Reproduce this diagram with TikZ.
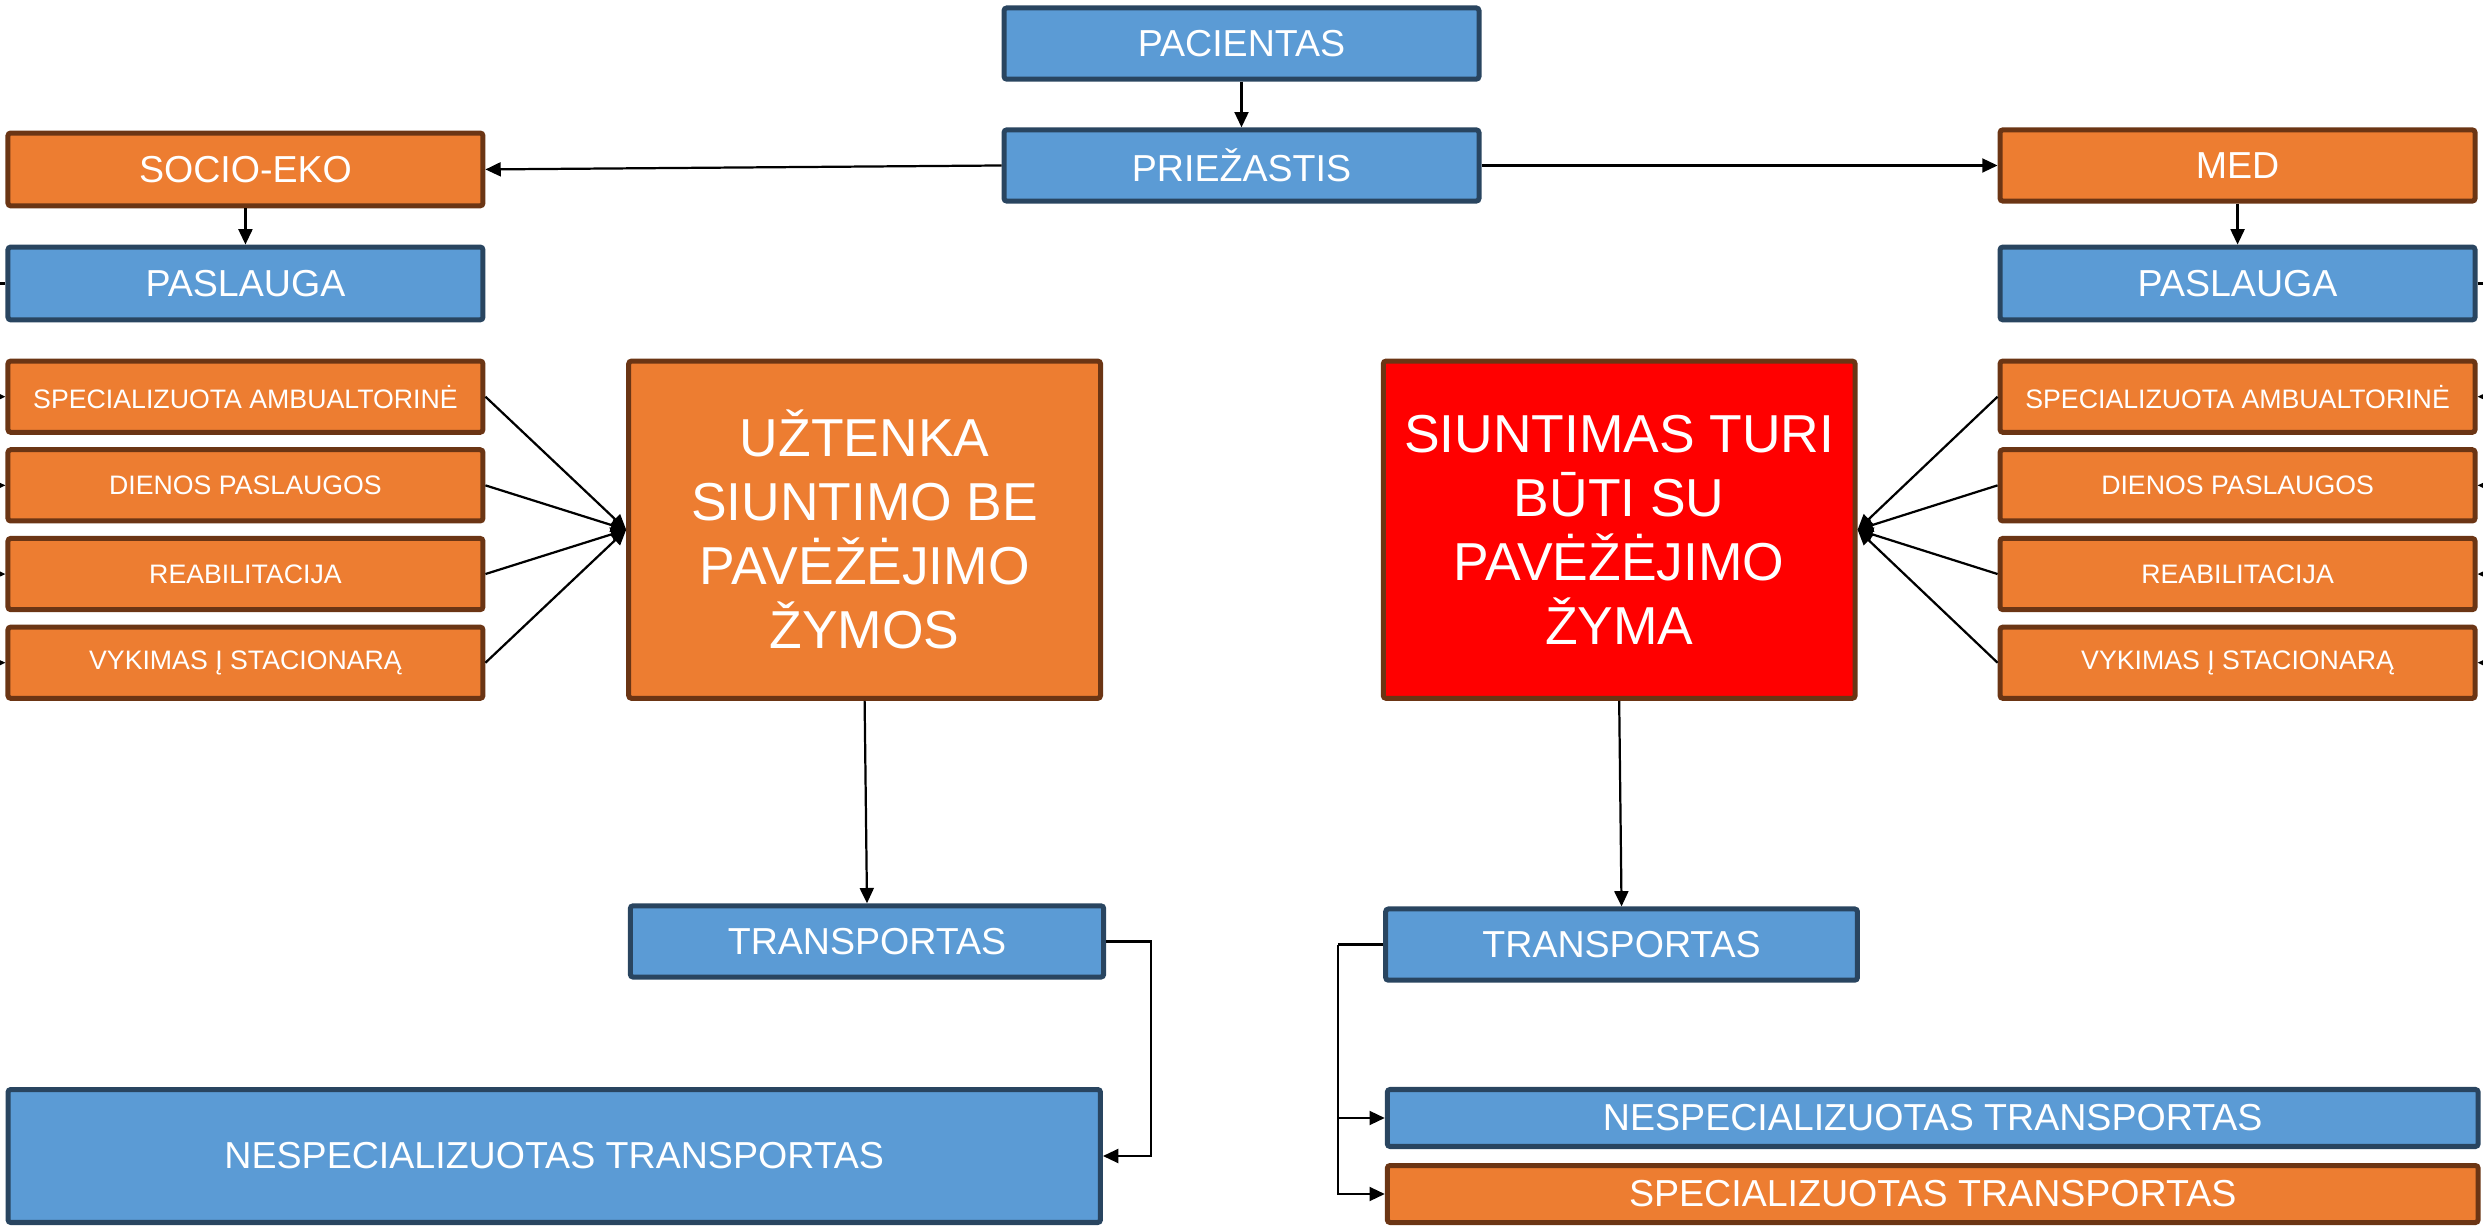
\documentclass[tikz,border=0pt]{standalone}
\usepackage{fontspec}
\setmainfont{Liberation Sans}
\usetikzlibrary{arrows.meta}
\definecolor{bluefill}{HTML}{5B9BD5}
\definecolor{bluebd}{HTML}{294560}
\definecolor{orfill}{HTML}{ED7D31}
\definecolor{orbd}{HTML}{6B3514}
\definecolor{redfill}{HTML}{FF0000}
\tikzset{
  boxbase/.style={line width=1.8pt, rounded corners=1pt, text=white, inner sep=0pt,
    minimum width=6cm, minimum height=0.9cm, font=\fontsize{13.5}{16}\selectfont},
  bluebox/.style={boxbase, draw=bluebd, fill=bluefill},
  orbox/.style={boxbase, draw=orbd, fill=orfill},
  smallbox/.style={orbox, font=\fontsize{9.6}{12}\selectfont},
  bigbox/.style={boxbase, draw=orbd, align=center, minimum width=5.96cm, minimum height=4.26cm,
    font=\fontsize{19.2}{23}\selectfont},
  arr/.style={line width=0.8pt, -{Triangle[length=5.5pt,width=5pt]}},
  ln/.style={line width=0.8pt}
}
\begin{document}
\begin{tikzpicture}[x=0.02cm,y=-0.02cm]
\useasboundingbox (0,0) rectangle (1568,774);
% top
\node[bluebox] (pac) at (784,27.5) {PACIENTAS};
\node[bluebox] (pri) at (784,104.5) {PRIEŽASTIS};
\node[orbox, minimum height=0.92cm] (soc) at (155,107) {SOCIO-EKO};
\node[orbox] (med) at (1413,104.5) {MED};
\node[bluebox, minimum height=0.92cm] (pasL) at (155,179) {PASLAUGA};
\node[bluebox, minimum height=0.92cm] (pasR) at (1413,179) {PASLAUGA};
% small boxes left
\node[smallbox] (sL1) at (155,250.5) {SPECIALIZUOTA AMBUALTORINĖ};
\node[smallbox] (sL2) at (155,306.5) {DIENOS PASLAUGOS};
\node[smallbox] (sL3) at (155,362.5) {REABILITACIJA};
\node[smallbox] (sL4) at (155,418.5) {VYKIMAS Į STACIONARĄ};
% small boxes right
\node[smallbox] (sR1) at (1413,250.5) {SPECIALIZUOTA AMBUALTORINĖ};
\node[smallbox] (sR2) at (1413,306.5) {DIENOS PASLAUGOS};
\node[smallbox] (sR3) at (1413,362.5) {REABILITACIJA};
\node[smallbox] (sR4) at (1413,418.5) {VYKIMAS Į STACIONARĄ};
% big boxes
\node[bigbox, fill=orfill] (bigL) at (546,334.5) {UŽTENKA\\SIUNTIMO BE\\PAVĖŽĖJIMO\\ŽYMOS};
\node[bigbox, fill=redfill] (bigR) at (1022.5,334.5) {SIUNTIMAS TURI\\BŪTI SU\\PAVĖŽĖJIMO\\ŽYMA};
% transport
\node[bluebox, minimum width=5.98cm] (trL) at (547.5,594.5) {TRANSPORTAS};
\node[bluebox, minimum width=5.96cm] (trR) at (1024,596.5) {TRANSPORTAS};
\node[bluebox, minimum width=13.8cm, minimum height=1.68cm] (nsL) at (350,730) {NESPECIALIZUOTAS TRANSPORTAS};
\node[bluebox, minimum width=13.78cm, minimum height=0.72cm] (nsR) at (1220.5,706) {NESPECIALIZUOTAS TRANSPORTAS};
\node[orbox, minimum width=13.78cm, minimum height=0.72cm] (spR) at (1220.5,754) {SPECIALIZUOTAS TRANSPORTAS};
% off-canvas bus coordinates
\coordinate (busL) at (-15,179);
\coordinate (busR) at (1583,179);
\coordinate (tbL) at (727,594.5);
\coordinate (tbR) at (845,596.5);
% connectors
\draw[arr] (pac.south) -- (pri.north);
\draw[arr] (pri.west) -- (soc.east);
\draw[arr] (pri.east) -- (med.west);
\draw[arr] (soc.south) -- (pasL.north);
\draw[arr] (med.south) -- (pasR.north);
\draw[ln] (pasL.west) -- (busL);
\draw[ln] (pasR.east) -- (busR);
\foreach \n in {sL1,sL2,sL3,sL4}{
  \draw[arr] (busL) |- (\n.west);
  \draw[arr] (\n.east) -- (bigL.west);
}
\foreach \n in {sR1,sR2,sR3,sR4}{
  \draw[arr] (busR) |- (\n.east);
  \draw[arr] (\n.west) -- (bigR.east);
}
\draw[arr] (bigL.south) -- (trL.north);
\draw[arr] (bigR.south) -- (trR.north);
\draw[arr] (trL.east) -- (tbL) |- (nsL.east);
\draw[ln] (trR.west) -- (tbR);
\draw[arr] (tbR) |- (nsR.west);
\draw[arr] (tbR) |- (spR.west);
\end{tikzpicture}
\end{document}
